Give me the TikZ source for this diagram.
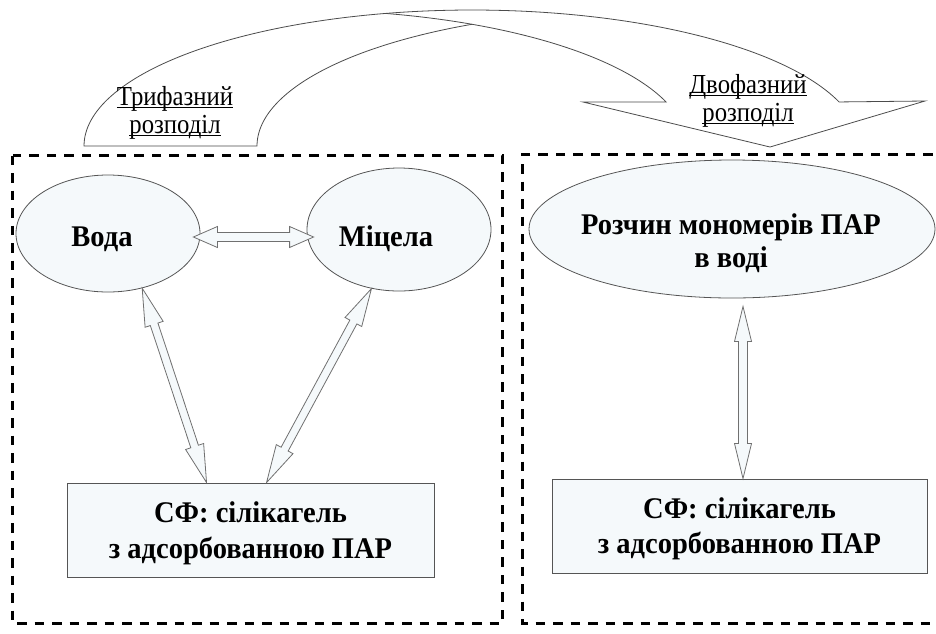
\documentclass[tikz,border=0pt]{standalone}
\usepackage{fontspec}
\setmainfont{Liberation Serif}
\newfontfamily\lblfont[FakeStretch=0.9]{Liberation Serif}
\newfontfamily\bfont[FakeStretch=0.95]{Liberation Serif}
\usetikzlibrary{calc,shapes.geometric}

\definecolor{lightfill}{HTML}{F5F9FB}
\definecolor{edgegray}{HTML}{555555}
\definecolor{arrgray}{HTML}{707070}

\newlength\ulwd
\newcommand\myul[1]{\settowidth{\ulwd}{#1}\rlap{\rule[-2.4pt]{\ulwd}{0.9pt}}#1}

% hollow double arrow between two named coordinates
% #1 start, #2 end, #3 head length, #4 head half width, #5 shaft half width
\newcommand\dblarrow[5]{%
  \coordinate (#1h) at ($(#1)!#3pt!(#2)$);
  \coordinate (#2h) at ($(#2)!#3pt!(#1)$);
  \draw[dblshape] (#1)
    -- ($(#1h)!#4pt!90:(#2)$) -- ($(#1h)!#5pt!90:(#2)$)
    -- ($(#2h)!#5pt!-90:(#1)$) -- ($(#2h)!#4pt!-90:(#1)$)
    -- (#2)
    -- ($(#2h)!#4pt!90:(#1)$) -- ($(#2h)!#5pt!90:(#1)$)
    -- ($(#1h)!#5pt!-90:(#2)$) -- ($(#1h)!#4pt!-90:(#2)$)
    -- cycle;
}

\tikzset{
  dblshape/.style={draw=arrgray, fill=lightfill, line width=0.8pt, line join=miter},
  ell/.style={ellipse, draw=edgegray, fill=lightfill, line width=0.8pt, inner sep=0pt},
  boxnode/.style={rectangle, draw=edgegray, fill=lightfill, line width=0.9pt, inner sep=0pt},
  btext/.style={font=\bfont\bfseries\fontsize{30}{33}\selectfont, inner sep=0pt, align=center},
  lbl/.style={font=\lblfont\fontsize{27.5}{28}\selectfont, inner sep=0pt, align=center},
  dashframe/.style={draw=black, line width=3pt, dash pattern=on 9.5pt off 8pt},
  band/.style={draw=black!70, fill=white, line width=0.8pt, line join=miter},
}

\begin{document}
\begin{tikzpicture}[x=1pt,y=-1pt]
\useasboundingbox (0,0) rectangle (936,633);
\clip (0,0) rectangle (936,633);

% curved arrow (three-phase / two-phase)
\draw[band]
  plot[domain=180:18.9, samples=120] ({472+388*cos(\x)},{146-136*sin(\x)})
  -- (925,101) -- (770,147) -- (583,102)
  -- plot[domain=18.9:63.5, samples=60] ({299+388*cos(\x)},{146-136*sin(\x)})
  -- plot[domain=116.5:180, samples=60] ({645+388*cos(\x)},{146-136*sin(\x)})
  -- cycle;
\draw[band, fill=none] plot[domain=63.5:77.1, samples=20] ({299+388*cos(\x)},{146-136*sin(\x)});

\node[lbl, anchor=north] (trif) at (175,86) {\myul{Трифазний}\\\myul{розподіл}};
\node[lbl, anchor=north] (dvof) at (748,74) {\myul{Двофазний}\\\myul{розподіл}};

% dashed frames
\draw[dashframe] (12.5,155.5) rectangle (502.5,623.5);
\draw[dashframe] (950,154.5) -- (522,154.5) -- (522,623) -- (950,623);

% left part
\node[ell, minimum width=184pt, minimum height=117pt] (voda) at (108,233.5) {};
\node[btext, anchor=base] (vodatxt) at (102,246) {Вода};
\node[ell, minimum width=184pt, minimum height=123pt] (mits) at (399,229.5) {};
\node[btext, anchor=base] (mitstxt) at (386,246) {Міцела};
\node[boxnode, minimum width=367pt, minimum height=94pt] (sf1) at (250.5,530) {};
\node[btext, anchor=north, font=\bfont\bfseries\fontsize{30}{36}\selectfont] (sf1txt) at (250.5,501.5)
  {СФ: сілікагель\\з адсорбованною ПАР};

% right part
\node[ell, minimum width=406pt, minimum height=138pt] (rozch) at (732,229) {};
\node[btext, anchor=north] (rozchtxt) at (731,213.5) {Розчин мономерів ПАР\\в воді};
\node[boxnode, minimum width=375pt, minimum height=94pt] (sf2) at (739.5,526) {};
\node[btext, anchor=north, font=\bfont\bfseries\fontsize{30}{35}\selectfont] (sf2txt) at (739.5,497.5)
  {СФ: сілікагель\\з адсорбованною ПАР};

% connectors
\coordinate (ha) at ($(voda.east)+(-7,3.5)$);
\coordinate (hb) at ($(mits.west)+(7,7.5)$);
\dblarrow{ha}{hb}{24}{10.5}{4.5}

\coordinate (da) at (voda.-58.5);
\coordinate (db) at ($(sf1.north west)+(140,0)$);
\dblarrow{da}{db}{38}{9.5}{4}

\coordinate (ea) at (mits.-115);
\coordinate (eb) at ($(sf1.north west)+(200,0)$);
\dblarrow{ea}{eb}{38}{9.5}{4}

\coordinate (va) at ($(rozch.south)+(11,8)$);
\coordinate (vb) at ($(sf2.north)+(3.5,0)$);
\dblarrow{va}{vb}{35}{8.5}{4.5}
\end{tikzpicture}
\end{document}
